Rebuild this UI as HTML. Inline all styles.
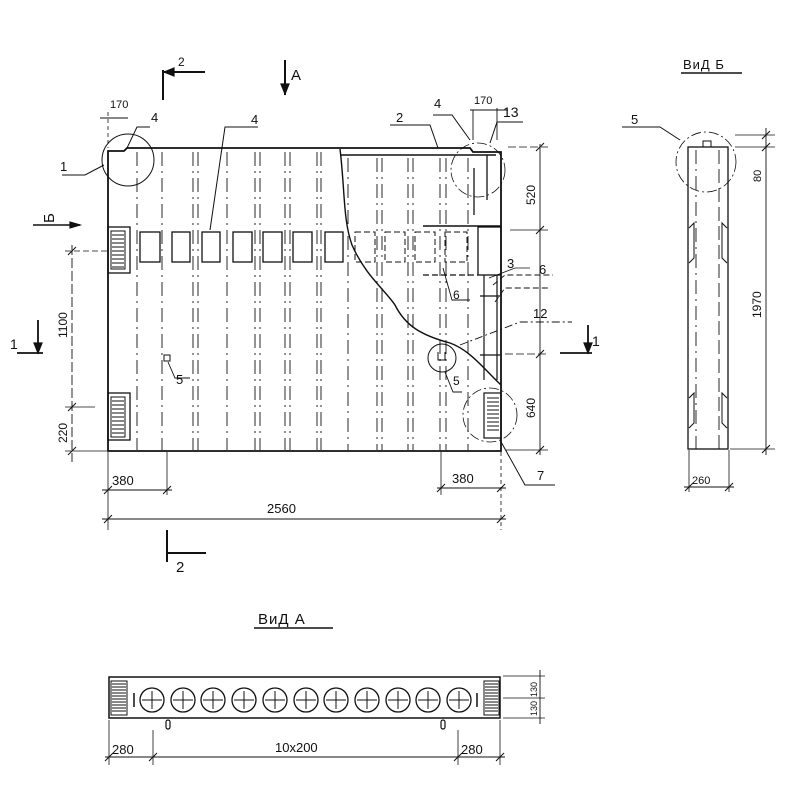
<!DOCTYPE html>
<html><head><meta charset="utf-8"><style>
html,body{margin:0;padding:0;background:#fff;width:800px;height:800px;overflow:hidden}
svg{display:block}
text{font-family:"Liberation Sans","DejaVu Sans",sans-serif;fill:#111}
</style></head><body>
<svg width="800" height="800" viewBox="0 0 800 800" xmlns="http://www.w3.org/2000/svg">
<g stroke="#111" fill="none" stroke-width="1.2">
<!-- main panel outline -->
<path d="M108,451 V151 H124 L127,148 H470 L473,152 H501 V451 Z" stroke-width="1.8"/>
<line x1="340" y1="155" x2="496" y2="155" stroke-width="1.5"/>
<!-- dashed verticals -->
<g stroke-dasharray="14,5,2,5" stroke-width="0.9">
<line x1="137" y1="152" x2="137" y2="450"/>
<line x1="162" y1="152" x2="162" y2="450"/>
<line x1="193" y1="152" x2="193" y2="450"/>
<line x1="198" y1="152" x2="198" y2="450"/>
<line x1="255" y1="152" x2="255" y2="450"/>
<line x1="260" y1="152" x2="260" y2="450"/>
<line x1="285" y1="152" x2="285" y2="450"/>
<line x1="290" y1="152" x2="290" y2="450"/>
<line x1="317" y1="152" x2="317" y2="450"/>
<line x1="321" y1="152" x2="321" y2="450"/>
<line x1="348" y1="158" x2="348" y2="450"/>
<line x1="377" y1="158" x2="377" y2="450"/>
<line x1="382" y1="158" x2="382" y2="450"/>
<line x1="408" y1="158" x2="408" y2="450"/>
<line x1="413" y1="158" x2="413" y2="450"/>
<line x1="440" y1="158" x2="440" y2="450"/>
<line x1="446" y1="158" x2="446" y2="450"/>
<line x1="468" y1="158" x2="468" y2="450"/>
</g>
<line x1="227" y1="152" x2="227" y2="450" stroke-width="0.9" stroke-dasharray="14,5,2,5"/>
<!-- squares -->
<g stroke-width="1.3">
<rect x="140" y="232" width="20" height="30"/>
<rect x="172" y="232" width="18" height="30"/>
<rect x="202" y="232" width="18" height="30"/>
<rect x="233" y="232" width="19" height="30"/>
<rect x="263" y="232" width="19" height="30"/>
<rect x="293" y="232" width="19" height="30"/>
<rect x="325" y="232" width="18" height="30"/>
</g>
<g stroke-width="1" stroke-dasharray="6,3">
<rect x="355" y="232" width="20" height="30"/>
<rect x="385" y="232" width="20" height="30"/>
<rect x="415" y="232" width="20" height="30"/>
<rect x="445" y="232" width="22" height="30"/>
</g>
<!-- right side details -->
<line x1="423" y1="226" x2="501" y2="226" stroke-width="1.5"/>
<rect x="478" y="227" width="23" height="48" stroke-width="1.3"/>
<line x1="423" y1="275" x2="478" y2="275" stroke-dasharray="6,3"/>
<line x1="474" y1="168" x2="474" y2="215" stroke-width="1.3"/>
<line x1="487" y1="155" x2="487" y2="200" stroke-width="1.3"/>
<line x1="484" y1="275" x2="484" y2="380" stroke-width="1.2"/>
<line x1="497" y1="275" x2="497" y2="380" stroke-width="1.2"/>
<line x1="480" y1="296" x2="500" y2="296"/><line x1="480" y1="355" x2="500" y2="355"/>
<!-- break curve -->
<path d="M340,149 C345,190 343,220 352,245 C365,275 385,290 395,305 C405,325 420,335 450,343 C470,350 485,370 501,385" stroke-width="1.4"/>
<!-- hatched boxes left -->
<rect x="108" y="227" width="22" height="46" stroke-width="1.3"/>
<rect x="108" y="393" width="22" height="47" stroke-width="1.3"/>
<rect x="111" y="231" width="14" height="38" stroke-width="1"/>
<rect x="111" y="397" width="14" height="40" stroke-width="1"/>
<path d="M112,235h12M112,239h12M112,243h12M112,247h12M112,251h12M112,255h12M112,259h12M112,263h12M112,267h12M112,401h12M112,405h12M112,409h12M112,413h12M112,417h12M112,421h12M112,425h12M112,429h12M112,433h12" stroke-width="1"/>
<!-- hatched box right -->
<rect x="484" y="393" width="17" height="45" stroke-width="1.2"/>
<path d="M487,398h12M487,402h12M487,406h12M487,410h12M487,414h12M487,418h12M487,422h12M487,426h12M487,430h12" stroke-width="1"/>
<!-- small square 5 -->
<rect x="164" y="355" width="6" height="6" stroke-width="1"/>
<path d="M168,362 L175,378 H190" stroke-width="0.9"/>
<!-- circles (detail callouts) -->
<circle cx="128" cy="160" r="26" stroke-width="1"/>
<circle cx="478" cy="170" r="27" stroke-width="0.8" stroke-dasharray="10,3,2,3"/>
<circle cx="442" cy="358" r="14" stroke-width="1"/>
<circle cx="490" cy="415" r="27" stroke-width="0.8" stroke-dasharray="10,3,2,3"/>
<path d="M438,352v8h7v-8" stroke-width="1"/>
<!-- leaders -->
<path d="M62,175 H85 L104,165" stroke-width="1"/>
<path d="M127,148 L137,127 H150" stroke-width="1"/>
<path d="M210,230 L225,127 H258" stroke-width="1"/>
<path d="M390,125 H430 L438,148" stroke-width="1"/>
<path d="M433,115 H452 L470,140" stroke-width="1"/>
<path d="M490,143 L497,122 H523" stroke-width="1"/>
<path d="M493,285 L505,275 H553" stroke-width="0.9" stroke-dasharray="6,3"/>
<path d="M495,302 L505,288 H550" stroke-width="0.9" stroke-dasharray="6,3"/>
<path d="M443,268 L452,300 H470" stroke-width="0.9"/>
<path d="M460,345 L520,322 H572" stroke-width="0.9" stroke-dasharray="8,3,2,3"/>
<path d="M445,372 L453,392 H462" stroke-width="0.9"/>
<path d="M500,440 L525,485 H555" stroke-width="1"/>
<path d="M489,278 L515,268 H530" stroke-width="0.8"/>
<!-- dims top -->
<line x1="100" y1="118" x2="128" y2="118" stroke-width="0.9"/>
<line x1="108" y1="112" x2="108" y2="148" stroke-dasharray="4,3" stroke-width="0.8"/>
<line x1="473" y1="110" x2="473" y2="140" stroke-width="0.9"/>
<line x1="497" y1="108" x2="497" y2="140" stroke-width="0.9"/>
<line x1="470" y1="110" x2="508" y2="110" stroke-width="0.9"/>
<!-- right dims -->
<line x1="540" y1="144" x2="540" y2="455" stroke-width="0.9"/>
<line x1="508" y1="147" x2="548" y2="147" stroke-width="0.8" stroke-dasharray="8,3"/>
<line x1="510" y1="230" x2="548" y2="230" stroke-width="0.8"/>
<line x1="505" y1="354" x2="548" y2="354" stroke-width="0.8" stroke-dasharray="8,3"/>
<line x1="505" y1="450" x2="548" y2="450" stroke-width="0.8"/>
<path d="M536,151l8,-8M536,234l8,-8M536,358l8,-8M536,454l8,-8" stroke-width="1"/>
<!-- left dims -->
<line x1="72" y1="245" x2="72" y2="462" stroke-width="0.9" stroke-dasharray="10,3"/>
<line x1="65" y1="251" x2="107" y2="251" stroke-width="0.8" stroke-dasharray="6,3"/>
<line x1="65" y1="407" x2="95" y2="407" stroke-width="0.8"/>
<line x1="65" y1="451" x2="107" y2="451" stroke-width="0.8"/>
<path d="M68,255l8,-8M68,411l8,-8M68,455l8,-8" stroke-width="1"/>
<!-- bottom dims -->
<line x1="108" y1="452" x2="108" y2="530" stroke-width="0.8"/>
<line x1="167" y1="452" x2="167" y2="495" stroke-width="0.8"/>
<line x1="441" y1="452" x2="441" y2="495" stroke-width="0.8"/>
<line x1="501" y1="452" x2="501" y2="530" stroke-width="0.8" stroke-dasharray="4,3"/>
<line x1="102" y1="490" x2="172" y2="490" stroke-width="0.9"/>
<line x1="437" y1="488" x2="506" y2="488" stroke-width="0.9"/>
<line x1="102" y1="519" x2="506" y2="519" stroke-width="0.9"/>
<path d="M104,494l8,-8M163,494l8,-8M437,492l8,-8M497,492l8,-8M104,523l8,-8M497,523l8,-8" stroke-width="1"/>
<!-- section markers -->
<path d="M163,70 V100 M163,72 H205" stroke-width="2"/>
<path d="M164,72 l10,-4 v8z" fill="#111"/>
<path d="M167,530 V562 M167,553 H206" stroke-width="2"/>
<path d="M285,60 V95" stroke-width="2"/><path d="M281,84 l4,10 l4,-10z" fill="#111"/>
<path d="M33,225 H80" stroke-width="1.5"/><path d="M80,225 l-10,-3 v6z" fill="#111"/>
<path d="M17,353 H43 M38,320 V353" stroke-width="1.8"/><path d="M34,343 l4,10 l4,-10z" fill="#111"/>
<path d="M560,353 H592 M588,325 V353" stroke-width="1.8"/><path d="M584,343 l4,10 l4,-10z" fill="#111"/>
<!-- Vid B side view -->
<rect x="688" y="147" width="40" height="302" stroke-width="1.3"/>
<path d="M703,147 v-6 h8 v6" stroke-width="1"/>
<line x1="696" y1="150" x2="696" y2="449" stroke-dasharray="14,5,2,5" stroke-width="0.9"/>
<line x1="719" y1="150" x2="719" y2="449" stroke-dasharray="14,5" stroke-width="0.9"/>
<path d="M689,228 l5,-5 v35 l-5,5 M727,228 l-5,-5 v35 l5,5 M689,398 l5,-5 v30 l-5,5 M727,398 l-5,-5 v30 l5,5" stroke-width="1"/>
<circle cx="706" cy="162" r="30" stroke-width="0.8" stroke-dasharray="10,3,2,3"/>
<path d="M622,127 H660 L680,140" stroke-width="1"/>
<line x1="766" y1="128" x2="766" y2="455" stroke-width="0.9"/>
<line x1="735" y1="135" x2="775" y2="135" stroke-width="0.8"/>
<line x1="735" y1="147" x2="775" y2="147" stroke-width="0.8"/>
<line x1="730" y1="449" x2="775" y2="449" stroke-width="0.8"/>
<path d="M762,139l8,-8M762,151l8,-8M762,453l8,-8" stroke-width="1"/>
<line x1="689" y1="450" x2="689" y2="492" stroke-width="0.8"/>
<line x1="729" y1="450" x2="729" y2="492" stroke-width="0.8"/>
<line x1="684" y1="487" x2="734" y2="487" stroke-width="0.9"/>
<path d="M685,491l8,-8M725,491l8,-8" stroke-width="1"/>
<line x1="681" y1="73" x2="742" y2="73" stroke-width="1.5"/>
<line x1="254" y1="628" x2="333" y2="628" stroke-width="1.5"/>
<!-- Vid A -->
<rect x="109" y="677" width="391" height="41" stroke-width="1.5"/>
<rect x="111" y="681" width="16" height="34" stroke-width="1"/>
<rect x="484" y="681" width="15" height="34" stroke-width="1"/>
<path d="M112,684h14M112,687h14M112,690h14M112,693h14M112,696h14M112,699h14M112,702h14M112,705h14M112,708h14M112,711h14M485,684h13M485,687h13M485,690h13M485,693h13M485,696h13M485,699h13M485,702h13M485,705h13M485,708h13M485,711h13" stroke-width="0.9"/>
<path d="M134,693v14M477,693v14" stroke-width="1.5"/>
<g stroke-width="1.3">
<circle cx="152" cy="700" r="12"/><circle cx="183" cy="700" r="12"/><circle cx="213" cy="700" r="12"/>
<circle cx="244" cy="700" r="12"/><circle cx="275" cy="700" r="12"/><circle cx="306" cy="700" r="12"/>
<circle cx="336" cy="700" r="12"/><circle cx="367" cy="700" r="12"/><circle cx="398" cy="700" r="12"/>
<circle cx="428" cy="700" r="12"/><circle cx="459" cy="700" r="12"/>
</g>
<path d="M142,700h20M152,691v18M173,700h20M183,691v18M203,700h20M213,691v18M234,700h20M244,691v18M265,700h20M275,691v18M296,700h20M306,691v18M326,700h20M336,691v18M357,700h20M367,691v18M388,700h20M398,691v18M418,700h20M428,691v18M449,700h20M459,691v18" stroke-width="1"/>
<rect x="166" y="720" width="4" height="9" rx="2" stroke-width="1.2"/>
<rect x="441" y="720" width="4" height="9" rx="2" stroke-width="1.2"/>
<line x1="109" y1="720" x2="109" y2="765" stroke-width="0.8"/>
<line x1="153" y1="730" x2="153" y2="765" stroke-width="0.8"/>
<line x1="458" y1="730" x2="458" y2="765" stroke-width="0.8"/>
<line x1="500" y1="720" x2="500" y2="765" stroke-width="0.8"/>
<line x1="105" y1="757" x2="505" y2="757" stroke-width="0.9"/>
<path d="M105,761l8,-8M149,761l8,-8M454,761l8,-8M496,761l8,-8" stroke-width="1"/>
<line x1="503" y1="676" x2="545" y2="676" stroke-width="0.8"/>
<line x1="503" y1="698" x2="545" y2="698" stroke-width="0.8"/>
<line x1="503" y1="718" x2="545" y2="718" stroke-width="0.8"/>
<line x1="540" y1="670" x2="540" y2="724" stroke-width="0.9"/>
</g>
<!-- labels -->
<g font-size="13">
<text x="178" y="66" font-size="12">2</text>
<text x="291" y="80" font-size="15">A</text>
<text x="110" y="108" font-size="11">170</text>
<text x="151" y="122">4</text>
<text x="251" y="124">4</text>
<text x="396" y="122">2</text>
<text x="434" y="108">4</text>
<text x="474" y="104" font-size="11">170</text>
<text x="503" y="117" font-size="14">13</text>
<text x="60" y="171">1</text>
<text x="34" y="217" font-size="15" transform="rotate(-90 47 210)">Б</text>
<text x="10" y="349" font-size="14">1</text>
<text x="592" y="346" font-size="14">1</text>
<text x="176" y="384">5</text>
<text x="507" y="268">3</text>
<text x="539" y="274">6</text>
<text x="453" y="299" font-size="12">6</text>
<text x="533" y="318">12</text>
<text x="453" y="385" font-size="12">5</text>
<text x="537" y="480">7</text>
<text x="176" y="572" font-size="15">2</text>
<text x="112" y="485">380</text>
<text x="452" y="483">380</text>
<text x="267" y="513">2560</text>
<g font-size="12">
<text transform="translate(535,205) rotate(-90)">520</text>
<text transform="translate(535,418) rotate(-90)">640</text>
<text transform="translate(67,338) rotate(-90)">1100</text>
<text transform="translate(67,443) rotate(-90)">220</text>
<text transform="translate(761,182) rotate(-90)" font-size="11">80</text>
<text transform="translate(761,318) rotate(-90)">1970</text>
</g>
<text x="692" y="484" font-size="11">260</text>
<text x="683" y="69" font-size="13" letter-spacing="1">ВиД Б</text>
<text x="258" y="624" font-size="15" letter-spacing="1">ВиД А</text>
<text x="631" y="124">5</text>
<text x="112" y="754">280</text>
<text x="275" y="752">10x200</text>
<text x="461" y="754">280</text>
<text transform="translate(537,697) rotate(-90)" font-size="9">130</text>
<text transform="translate(537,716) rotate(-90)" font-size="9">130</text>
</g>
</svg>
</body></html>
